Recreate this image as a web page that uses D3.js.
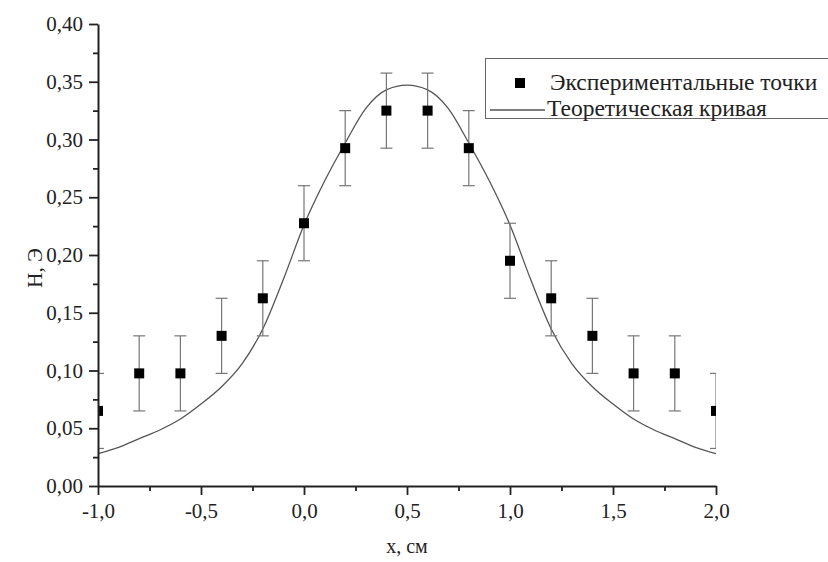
<!DOCTYPE html>
<meta charset="utf-8">
<style>
body { margin: 0; background: #fff; }
text { font-family: 'Liberation Serif', 'Times New Roman', serif; fill: #222; }
.axis path, .axis line { stroke: #222; }
</style>
<body>
<script src="https://d3js.org/d3.v7.min.js"></script>
<script>
	// experimental points (x, cm ; H, Oe) and error half-width
	var pointX = [-1.0, -0.8, -0.6, -0.4, -0.2, 0.0, 0.2, 0.4, 0.6, 0.8, 1.0, 1.2, 1.4, 1.6, 1.8, 2.0];
	var pointY = [0.065, 0.0975, 0.0975, 0.13, 0.1625, 0.2275, 0.2925, 0.325, 0.325, 0.2925, 0.195, 0.1625, 0.13, 0.0975, 0.0975, 0.065];
	var pointErr = [0.0325, 0.0325, 0.0325, 0.0325, 0.0325, 0.0325, 0.0325, 0.0325, 0.0325, 0.0325, 0.0325, 0.0325, 0.0325, 0.0325, 0.0325, 0.0325];

	// theoretical curve
	var curveX = [-1.0, -0.9, -0.8, -0.7, -0.6, -0.5, -0.4, -0.3, -0.2, -0.1, 0.0, 0.1, 0.2, 0.3, 0.4, 0.5,
		0.6, 0.7, 0.8, 0.9, 1.0, 1.1, 1.2, 1.3, 1.4, 1.5, 1.6, 1.7, 1.8, 1.9, 2.0];
	var curveY = [0.028, 0.0335, 0.041, 0.0485, 0.058, 0.071, 0.086, 0.106, 0.136, 0.179, 0.226, 0.264, 0.297, 0.327, 0.343, 0.347,
		0.343, 0.327, 0.297, 0.264, 0.226, 0.179, 0.136, 0.106, 0.086, 0.071, 0.058, 0.0485, 0.041, 0.0335, 0.028];

	var xTicks = [-1.0, -0.5, 0.0, 0.5, 1.0, 1.5, 2.0];
	var xMinor = [-0.75, -0.25, 0.25, 0.75, 1.25, 1.75];
	var yTicks = [0.00, 0.05, 0.10, 0.15, 0.20, 0.25, 0.30, 0.35, 0.40];
	var yMinor = [0.025, 0.075, 0.125, 0.175, 0.225, 0.275, 0.325, 0.375];

	var xTitle = "x, см";
	var yTitle = "H, Э";
	var legendLabels = ["Экспериментальные точки", "Теоретическая кривая"];

	var width = 828, height = 562;
	var plotLeft = 98, plotRight = 716, plotTop = 24, plotBottom = 486;

	var ru = d3.formatLocale({decimal: ",", thousands: " ", grouping: [3], currency: ["", ""], minus: "-"});

	var svg = d3.select("body").append("svg")
		.attr("width", width)
		.attr("height", height);

	var x = d3.scaleLinear().domain([-1, 2]).range([plotLeft, plotRight]);
	var y = d3.scaleLinear().domain([0, 0.4]).range([plotBottom, plotTop]);

	svg.append("clipPath").attr("id", "plotclip")
		.append("rect")
		.attr("x", plotLeft).attr("y", 0)
		.attr("width", plotRight - plotLeft).attr("height", plotBottom);

	var plot = svg.append("g").attr("clip-path", "url(#plotclip)");

	// theoretical curve
	var line = d3.line()
		.x(function(d, i) { return x(curveX[i]); })
		.y(function(d) { return y(d); })
		.curve(d3.curveMonotoneX);

	plot.append("path")
		.datum(curveY)
		.attr("d", line)
		.attr("fill", "none")
		.attr("stroke", "#555")
		.attr("stroke-width", 1.3);

	// error bars
	var capW = 6;
	var bars = plot.append("g").selectAll("g")
		.data(pointY)
		.enter().append("g")
		.attr("stroke", "#777")
		.attr("stroke-width", 1.2);

	bars.append("line")
		.attr("x1", function(d, i) { return x(pointX[i]); })
		.attr("x2", function(d, i) { return x(pointX[i]); })
		.attr("y1", function(d, i) { return y(d - pointErr[i]); })
		.attr("y2", function(d, i) { return y(d + pointErr[i]); });

	bars.append("line")
		.attr("x1", function(d, i) { return x(pointX[i]) - capW; })
		.attr("x2", function(d, i) { return x(pointX[i]) + capW; })
		.attr("y1", function(d, i) { return y(d + pointErr[i]); })
		.attr("y2", function(d, i) { return y(d + pointErr[i]); });

	bars.append("line")
		.attr("x1", function(d, i) { return x(pointX[i]) - capW; })
		.attr("x2", function(d, i) { return x(pointX[i]) + capW; })
		.attr("y1", function(d, i) { return y(d - pointErr[i]); })
		.attr("y2", function(d, i) { return y(d - pointErr[i]); });

	// square markers
	var sq = 10;
	plot.append("g").selectAll("rect")
		.data(pointY)
		.enter().append("rect")
		.attr("x", function(d, i) { return x(pointX[i]) - sq / 2; })
		.attr("y", function(d) { return y(d) - sq / 2; })
		.attr("width", sq)
		.attr("height", sq)
		.attr("fill", "#000");

	// axes
	var fmtX = ru.format(".1f"), fmtY = ru.format(".2f");

	var xAxis = svg.append("g")
		.attr("class", "axis")
		.attr("transform", "translate(0," + plotBottom + ")")
		.call(d3.axisBottom(x).tickValues(xTicks).tickFormat(fmtX).tickSizeInner(9).tickSizeOuter(0).tickPadding(8));
	xAxis.selectAll("line").attr("stroke-width", 1.8);
	xAxis.select(".domain").attr("stroke-width", 2);
	xAxis.selectAll("text").style("font-size", "21px").attr("fill", "#222");

	svg.append("g")
		.attr("class", "axis")
		.attr("transform", "translate(0," + plotBottom + ")")
		.call(d3.axisBottom(x).tickValues(xMinor).tickFormat("").tickSizeInner(5).tickSizeOuter(0))
		.call(function(g) { g.select(".domain").remove(); })
		.selectAll("line").attr("stroke-width", 1.8);

	var yAxis = svg.append("g")
		.attr("class", "axis")
		.attr("transform", "translate(" + plotLeft + ",0)")
		.call(d3.axisLeft(y).tickValues(yTicks).tickFormat(fmtY).tickSizeInner(9).tickSizeOuter(0).tickPadding(6));
	yAxis.selectAll("line").attr("stroke-width", 1.8);
	yAxis.select(".domain").attr("stroke-width", 2);
	yAxis.selectAll("text").style("font-size", "21px").attr("fill", "#222");

	svg.append("g")
		.attr("class", "axis")
		.attr("transform", "translate(" + plotLeft + ",0)")
		.call(d3.axisLeft(y).tickValues(yMinor).tickFormat("").tickSizeInner(5).tickSizeOuter(0))
		.call(function(g) { g.select(".domain").remove(); })
		.selectAll("line").attr("stroke-width", 1.8);

	// axis titles
	svg.append("text")
		.attr("x", (plotLeft + plotRight) / 2)
		.attr("y", 553)
		.attr("text-anchor", "middle")
		.style("font-size", "20px")
		.text(xTitle);

	svg.append("text")
		.attr("transform", "translate(42,268) rotate(-90)")
		.attr("text-anchor", "middle")
		.style("font-size", "21px")
		.text(yTitle);

	// legend
	var legend = svg.append("g");
	legend.append("rect")
		.attr("x", 485.5).attr("y", 58.5)
		.attr("width", 360).attr("height", 60)
		.attr("fill", "#fff")
		.attr("stroke", "#666")
		.attr("stroke-width", 1);

	legend.append("rect")
		.attr("x", 515).attr("y", 78)
		.attr("width", sq).attr("height", sq)
		.attr("fill", "#000");

	legend.append("line")
		.attr("x1", 490).attr("x2", 545)
		.attr("y1", 110).attr("y2", 110)
		.attr("stroke", "#555")
		.attr("stroke-width", 1.3);

	legend.selectAll("text.lab")
		.data(legendLabels)
		.enter().append("text")
		.attr("class", "lab")
		.attr("x", function(d, i) { return i == 0 ? 550 : 547; })
		.attr("y", function(d, i) { return i == 0 ? 90 : 116; })
		.style("font-size", "23.5px")
		.text(function(d) { return d; });
</script>
</body>
</html>
